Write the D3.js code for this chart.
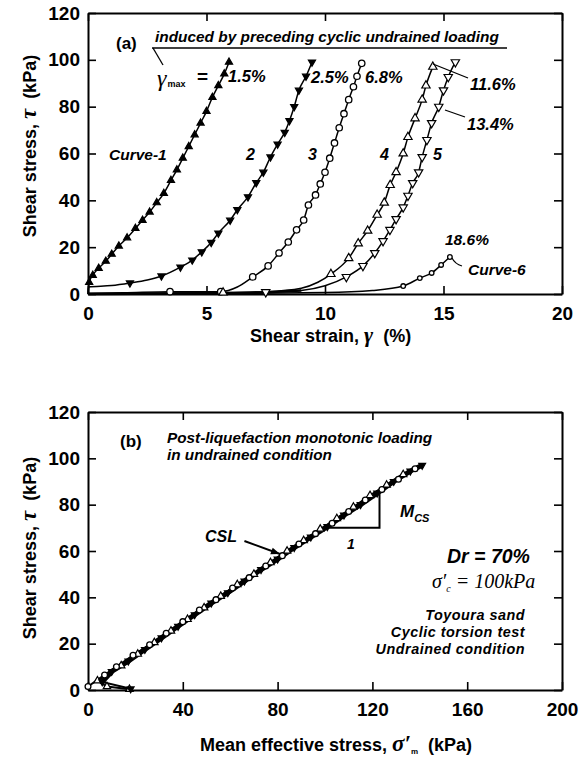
<!DOCTYPE html>
<html><head><meta charset="utf-8">
<script src="https://cdn.jsdelivr.net/npm/d3@7"></script>
<style>
html,body{margin:0;padding:0;background:#fff;}
svg{display:block;}
</style>
</head><body>
<svg id="chart" width="581" height="757"></svg>
<script>
// ---------------- DATA ----------------
// Panel (a): shear strain (%) vs shear stress (kPa); m=1 -> marker drawn
const curve1 = [[0,0,0],[0.05,5,1],[0.2,8,1],[0.45,11,1],[0.75,14,1],[1.0,17,1],[1.3,20.5,1],[1.65,24,1],[2.0,28,1],[2.3,31.5,1],[2.6,35,1],[2.9,39,1],[3.2,43,1],[3.5,48.5,1],[3.75,53,1],[4.0,58,1],[4.25,63,1],[4.5,68,1],[4.75,73,1],[5.0,78,1],[5.25,84,1],[5.5,89,1],[5.75,94,1],[5.95,99,1]];
const curve2 = [[0,0,0],[0.02,3,0],[1,3.6,0],[1.77,4.7,1],[2.5,6,0],[3.1,7.7,1],[3.9,11.5,1],[4.4,14.5,1],[4.8,18,1],[5.2,22,1],[5.5,26,1],[6.0,31.5,1],[6.3,36,1],[6.75,41.5,1],[7.1,47.5,1],[7.4,52,1],[7.7,58.5,1],[8.0,64,1],[8.3,69,1],[8.5,74,1],[8.7,80,1],[8.9,87,1],[9.2,93,1],[9.45,99,1]];
const curve3 = [[0,0.3,0],[1.5,0.5,0],[3.46,1.0,1],[4.5,1.0,0],[5.6,1.0,1],[6.3,3,0],[6.95,7.3,1],[7.6,12,1],[8.06,17.5,1],[8.45,22.2,1],[8.8,27.4,1],[9.1,31.6,1],[9.3,38,1],[9.6,42.3,1],[9.8,47,1],[10.0,52,1],[10.2,58,1],[10.4,64.5,1],[10.6,71,1],[10.8,77,1],[11.0,83,1],[11.2,88.5,1],[11.35,93,1],[11.55,98.5,1]];
const curve4 = [[0,0,0],[3,0.3,0],[5.7,0.6,1],[7.5,1,0],[9,2.5,0],[9.7,5,0],[10.25,8.5,1],[11.0,15.3,1],[11.4,21.6,1],[11.8,27,1],[12.2,33.8,1],[12.5,39,1],[12.75,46.5,1],[13.0,52,1],[13.3,60,1],[13.5,67,1],[13.8,75,1],[14.1,83,1],[14.26,89,1],[14.55,97,1]];
const curve5 = [[0,0,0],[4,0.2,0],[7.5,0.8,1],[9,1.5,0],[10,3.5,0],[10.9,7.3,1],[11.6,12,1],[12.1,17.5,1],[12.45,22.6,1],[12.74,27.4,1],[13.0,32,1],[13.3,37,1],[13.5,42,1],[13.7,47.4,1],[13.95,52,1],[14.1,58.5,1],[14.3,65.8,1],[14.5,73,1],[14.8,80,1],[15.0,87,1],[15.2,92.7,1],[15.5,99,1]];
const curve6 = [[0,0,0],[5,0.2,0],[10,0.6,0],[12,1.5,0],[13.3,3.4,1],[14.0,6.8,1],[14.5,9,1],[14.9,12.4,1],[15.27,15.8,1]];

// Panel (b): mean effective stress (kPa) vs shear stress (kPa)
const pathCircles = [[0,1.5],[7,6.5],[12,10],[19,15],[26,19.5],[33,24.5],[40,29.5],[47,34.5],[54,39],[61,44],[68,48.5],[75,53.5],[82,58],[89,63],[96,67.5],[103,72],[110,77],[117,82],[124,86.5],[131,91],[138,95.5]];
const pathFilled = [[18,0.5],[6,3.5],[10,8],[17,12.5],[24,17.5],[31,22.5],[38,27.5],[45,32.5],[52,37.5],[59,42],[66,47],[73,52],[80,56.5],[87,61.5],[94,66],[101,70.5],[108,75.5],[115,80],[122,85],[129,90],[136,94.5],[141,97]];
const pathOpenTri = [[17.5,0.3],[8,1.5],[4,4],[14,10.5],[21,15.5],[28,20.5],[35,25.5],[42,30.5],[49,35.5],[56,40.5],[63,45.5],[70,50],[77,55],[84,60],[91,64.5],[98,69.5],[105,74],[112,79],[119,84],[126,88.5],[133,93]];
const mcsTriangle = [[101,70],[123,70],[123,85]];
const cslArrow = [[66,64.3],[81,58.7]];

// Axis ticks
const xTicksA = [0,5,10,15,20];
const xTicksB = [0,40,80,120,160,200];
const yTicks = [0,20,40,60,80,100,120];

// ---------------- DRAW ----------------
const sans = "'Liberation Sans', Arial, Helvetica, sans-serif";
const serif = "'Liberation Serif', 'Times New Roman', serif";
const svg = d3.select('#chart');

const xa = d3.scaleLinear().domain([0,20]).range([88,562]);
const ya = d3.scaleLinear().domain([0,120]).range([294,13]);
const xb = d3.scaleLinear().domain([0,200]).range([88,562]);
const yb = d3.scaleLinear().domain([0,120]).range([690,412]);

function frame(x, y, xt) {
  const g = svg.append('g');
  const [x0,x1] = x.range(), [y0,y1] = y.range();
  const style = sel => {
    sel.selectAll('path.domain').attr('stroke','#000').attr('stroke-width',2);
    sel.selectAll('.tick line').attr('stroke','#000').attr('stroke-width',1.6);
    sel.selectAll('.tick text').attr('font-family',sans).attr('font-size',19).attr('font-weight','bold').attr('fill','#000');
  };
  g.append('g').attr('transform',`translate(0,${y0})`)
    .call(d3.axisBottom(x).tickValues(xt).tickSizeInner(-8).tickSizeOuter(0).tickPadding(13).tickFormat(d3.format('d'))).call(style);
  g.append('g').attr('transform',`translate(0,${y1})`)
    .call(d3.axisTop(x).tickValues(xt).tickSizeInner(-8).tickSizeOuter(0).tickFormat('')).call(style);
  g.append('g').attr('transform',`translate(${x0},0)`)
    .call(d3.axisLeft(y).tickValues(yTicks).tickSizeInner(-8).tickSizeOuter(0).tickPadding(8)).call(style);
  g.append('g').attr('transform',`translate(${x1},0)`)
    .call(d3.axisRight(y).tickValues(yTicks).tickSizeInner(-8).tickSizeOuter(0).tickFormat('')).call(style);
  g.selectAll('.tick text').attr('font-size',19);
  return g;
}

frame(xa, ya, xTicksA);
frame(xb, yb, xTicksB);

function txt(x, y, s, opt={}) {
  return svg.append('text').attr('x',x).attr('y',y).text(s)
    .attr('font-family',opt.family||sans).attr('font-size',opt.size||15)
    .attr('font-weight',opt.weight||'bold').attr('font-style',opt.style||'normal')
    .attr('text-anchor',opt.anchor||'start').attr('fill','#000');
}

// ---- Panel (a) curves ----
const lineA = d3.line().x(d=>xa(d[0])).y(d=>ya(d[1])).curve(d3.curveMonotoneX);
const curvesA = [
  {data:curve1, sym:'triUp', fill:'#000', size:22},
  {data:curve2, sym:'triDown', fill:'#000', size:22},
  {data:curve3, sym:'circle', fill:'#fff', size:3.2},
  {data:curve4, sym:'triUp', fill:'#fff', size:30},
  {data:curve5, sym:'triDown', fill:'#fff', size:30},
  {data:curve6, sym:'circle', fill:'#fff', size:2.3}
];
curvesA.forEach(c => {
  svg.append('path').datum(c.data).attr('d',lineA).attr('fill','none').attr('stroke','#000').attr('stroke-width',1.5);
});
svg.append('path').datum(curve5.slice(0,4)).attr('d',lineA).attr('fill','none').attr('stroke','#000').attr('stroke-width',2.5);

function drawMarkers(pts, sx, sy, c) {
  const g = svg.append('g');
  pts.forEach(d => {
    const px = sx(d[0]), py = sy(d[1]);
    if (c.sym === 'circle') {
      g.append('circle').attr('cx',px).attr('cy',py).attr('r',c.size)
        .attr('fill',c.fill).attr('stroke','#000').attr('stroke-width',1.3);
    } else {
      g.append('path').attr('d',d3.symbol(d3.symbolTriangle, c.size)())
        .attr('transform',`translate(${px},${py})${c.sym==='triDown'?' rotate(180)':''}`)
        .attr('fill',c.fill).attr('stroke','#000').attr('stroke-width',1.2);
    }
  });
}
curvesA.forEach(c => drawMarkers(c.data.filter(d=>d[2]===1), xa, ya, c));

// ---- Panel (a) annotations ----
txt(116, 49, '(a)', {size:17});
txt(155, 42, 'induced by preceding cyclic undrained loading', {size:15.4, style:'italic'});
svg.append('line').attr('x1',152).attr('y1',48).attr('x2',507).attr('y2',48).attr('stroke','#000').attr('stroke-width',1.6);
svg.append('line').attr('x1',153).attr('y1',48).attr('x2',163).attr('y2',65).attr('stroke','#000').attr('stroke-width',1.3);
const gm = svg.append('text').attr('x',157).attr('y',86).attr('fill','#000');
gm.append('tspan').text('γ').attr('font-family',serif).attr('font-style','italic').attr('font-size',24);
gm.append('tspan').text('max').attr('font-family',sans).attr('font-weight','bold').attr('font-size',9).attr('dy',1).attr('dx',1);
txt(197, 83, '=', {size:19});
txt(228, 82, '1.5%', {size:16.5, style:'italic'});
txt(311, 83, '2.5%', {size:16.5, style:'italic'});
txt(365, 83, '6.8%', {size:16.5, style:'italic'});
txt(470, 90, '11.6%', {size:16.5, style:'italic'});
txt(467, 130, '13.4%', {size:16.5, style:'italic'});
svg.append('line').attr('x1',433).attr('y1',64).attr('x2',468).attr('y2',78).attr('stroke','#000').attr('stroke-width',1.3);
svg.append('line').attr('x1',445).attr('y1',110).attr('x2',465).attr('y2',117).attr('stroke','#000').attr('stroke-width',1.3);
txt(109, 160, 'Curve-1', {size:15.5, style:'italic'});
txt(246, 160, '2', {size:16, style:'italic'});
txt(308, 160, '3', {size:16, style:'italic'});
txt(380, 160, '4', {size:16, style:'italic'});
txt(433, 160, '5', {size:16, style:'italic'});
txt(445, 245, '18.6%', {size:15.5, style:'italic'});
txt(468, 275, 'Curve-6', {size:15.5, style:'italic'});
svg.append('path').attr('d','M452,258 Q455,264 462,266').attr('fill','none').attr('stroke','#000').attr('stroke-width',1.2);

// axis titles (a)
const tA = svg.append('text').attr('x',250).attr('y',342).attr('font-family',sans).attr('font-weight','bold').attr('font-size',18).attr('fill','#000');
tA.append('tspan').text('Shear strain, ');
tA.append('tspan').text('γ').attr('font-family',serif).attr('font-style','italic').attr('font-size',22);
tA.append('tspan').text('\u00a0\u00a0(%)');
function yTitle(cy) {
  const t = svg.append('text').attr('transform',`translate(36,${cy}) rotate(-90)`).attr('text-anchor','middle')
    .attr('font-family',sans).attr('font-weight','bold').attr('font-size',18).attr('fill','#000');
  t.append('tspan').text('Shear stress, ');
  t.append('tspan').text('τ').attr('font-family',serif).attr('font-style','italic').attr('font-size',23);
  t.append('tspan').text('\u00a0\u00a0(kPa)');
}
yTitle(146);
yTitle(548);

// ---- Panel (b) ----
const lineB = d3.line().x(d=>xb(d[0])).y(d=>yb(d[1]));
svg.append('path').datum(pathFilled.slice(1)).attr('d',lineB).attr('fill','none').attr('stroke','#000').attr('stroke-width',5);
[pathCircles, pathFilled, pathOpenTri].forEach(p => {
  svg.append('path').datum(p).attr('d',lineB).attr('fill','none').attr('stroke','#000').attr('stroke-width',2);
});
drawMarkers(pathOpenTri, xb, yb, {sym:'triUp', fill:'#fff', size:24});
drawMarkers(pathFilled, xb, yb, {sym:'triDown', fill:'#000', size:20});
drawMarkers(pathCircles, xb, yb, {sym:'circle', fill:'#fff', size:2.9});

svg.append('path').datum(mcsTriangle).attr('d',d3.line().x(d=>xb(d[0])).y(d=>yb(d[1]))).attr('fill','none').attr('stroke','#000').attr('stroke-width',2);
// CSL arrow
const a0 = [xb(cslArrow[0][0]), yb(cslArrow[0][1])], a1 = [xb(cslArrow[1][0]), yb(cslArrow[1][1])];
svg.append('line').attr('x1',a0[0]).attr('y1',a0[1]).attr('x2',a1[0]).attr('y2',a1[1]).attr('stroke','#000').attr('stroke-width',2);
const ang = Math.atan2(a1[1]-a0[1], a1[0]-a0[0]);
const hl = 9, hw = 3.5;
const hp = [[a1[0],a1[1]],
  [a1[0]-hl*Math.cos(ang)+hw*Math.sin(ang), a1[1]-hl*Math.sin(ang)-hw*Math.cos(ang)],
  [a1[0]-hl*Math.cos(ang)-hw*Math.sin(ang), a1[1]-hl*Math.sin(ang)+hw*Math.cos(ang)]];
svg.append('path').attr('d','M'+hp.join('L')+'Z').attr('fill','#000');

txt(120, 447, '(b)', {size:17});
txt(167, 443, 'Post-liquefaction monotonic loading', {size:15.3, style:'italic'});
txt(167, 460, 'in undrained condition', {size:15.3, style:'italic'});
txt(205, 542, 'CSL', {size:16, style:'italic'});
txt(347, 549, '1', {size:14, style:'italic'});
const mcs = svg.append('text').attr('x',400).attr('y',517).attr('font-family',sans).attr('font-weight','bold').attr('font-style','italic').attr('fill','#000');
mcs.append('tspan').text('M').attr('font-size',17);
mcs.append('tspan').text('CS').attr('font-size',11).attr('dy',5);
txt(447, 563, 'Dr = 70%', {size:19.5, style:'italic'});
const sg = svg.append('text').attr('x',432).attr('y',588).attr('font-family',serif).attr('font-style','italic').attr('font-size',20).attr('fill','#000');
sg.append('tspan').text('σ′');
sg.append('tspan').text('c').attr('font-size',10).attr('dy',4);
sg.append('tspan').text(' = 100kPa').attr('dy',-4);
const note = {size:14.4, style:'italic', anchor:'end'};
txt(525, 620, 'Toyoura sand', note).attr('letter-spacing',0.5);
txt(525, 637, 'Cyclic torsion test', note).attr('letter-spacing',0.5);
txt(525, 654, 'Undrained condition', note).attr('letter-spacing',0.5);

const tB = svg.append('text').attr('x',200).attr('y',751).attr('font-family',sans).attr('font-weight','bold').attr('font-size',18).attr('fill','#000');
tB.append('tspan').text('Mean effective stress, ');
tB.append('tspan').text('σ′').attr('font-family',serif).attr('font-style','italic').attr('font-size',23);
tB.append('tspan').text('m').attr('font-size',8).attr('dy',3);
tB.append('tspan').text('\u00a0\u00a0(kPa)').attr('dy',-3);
</script>
</body></html>
